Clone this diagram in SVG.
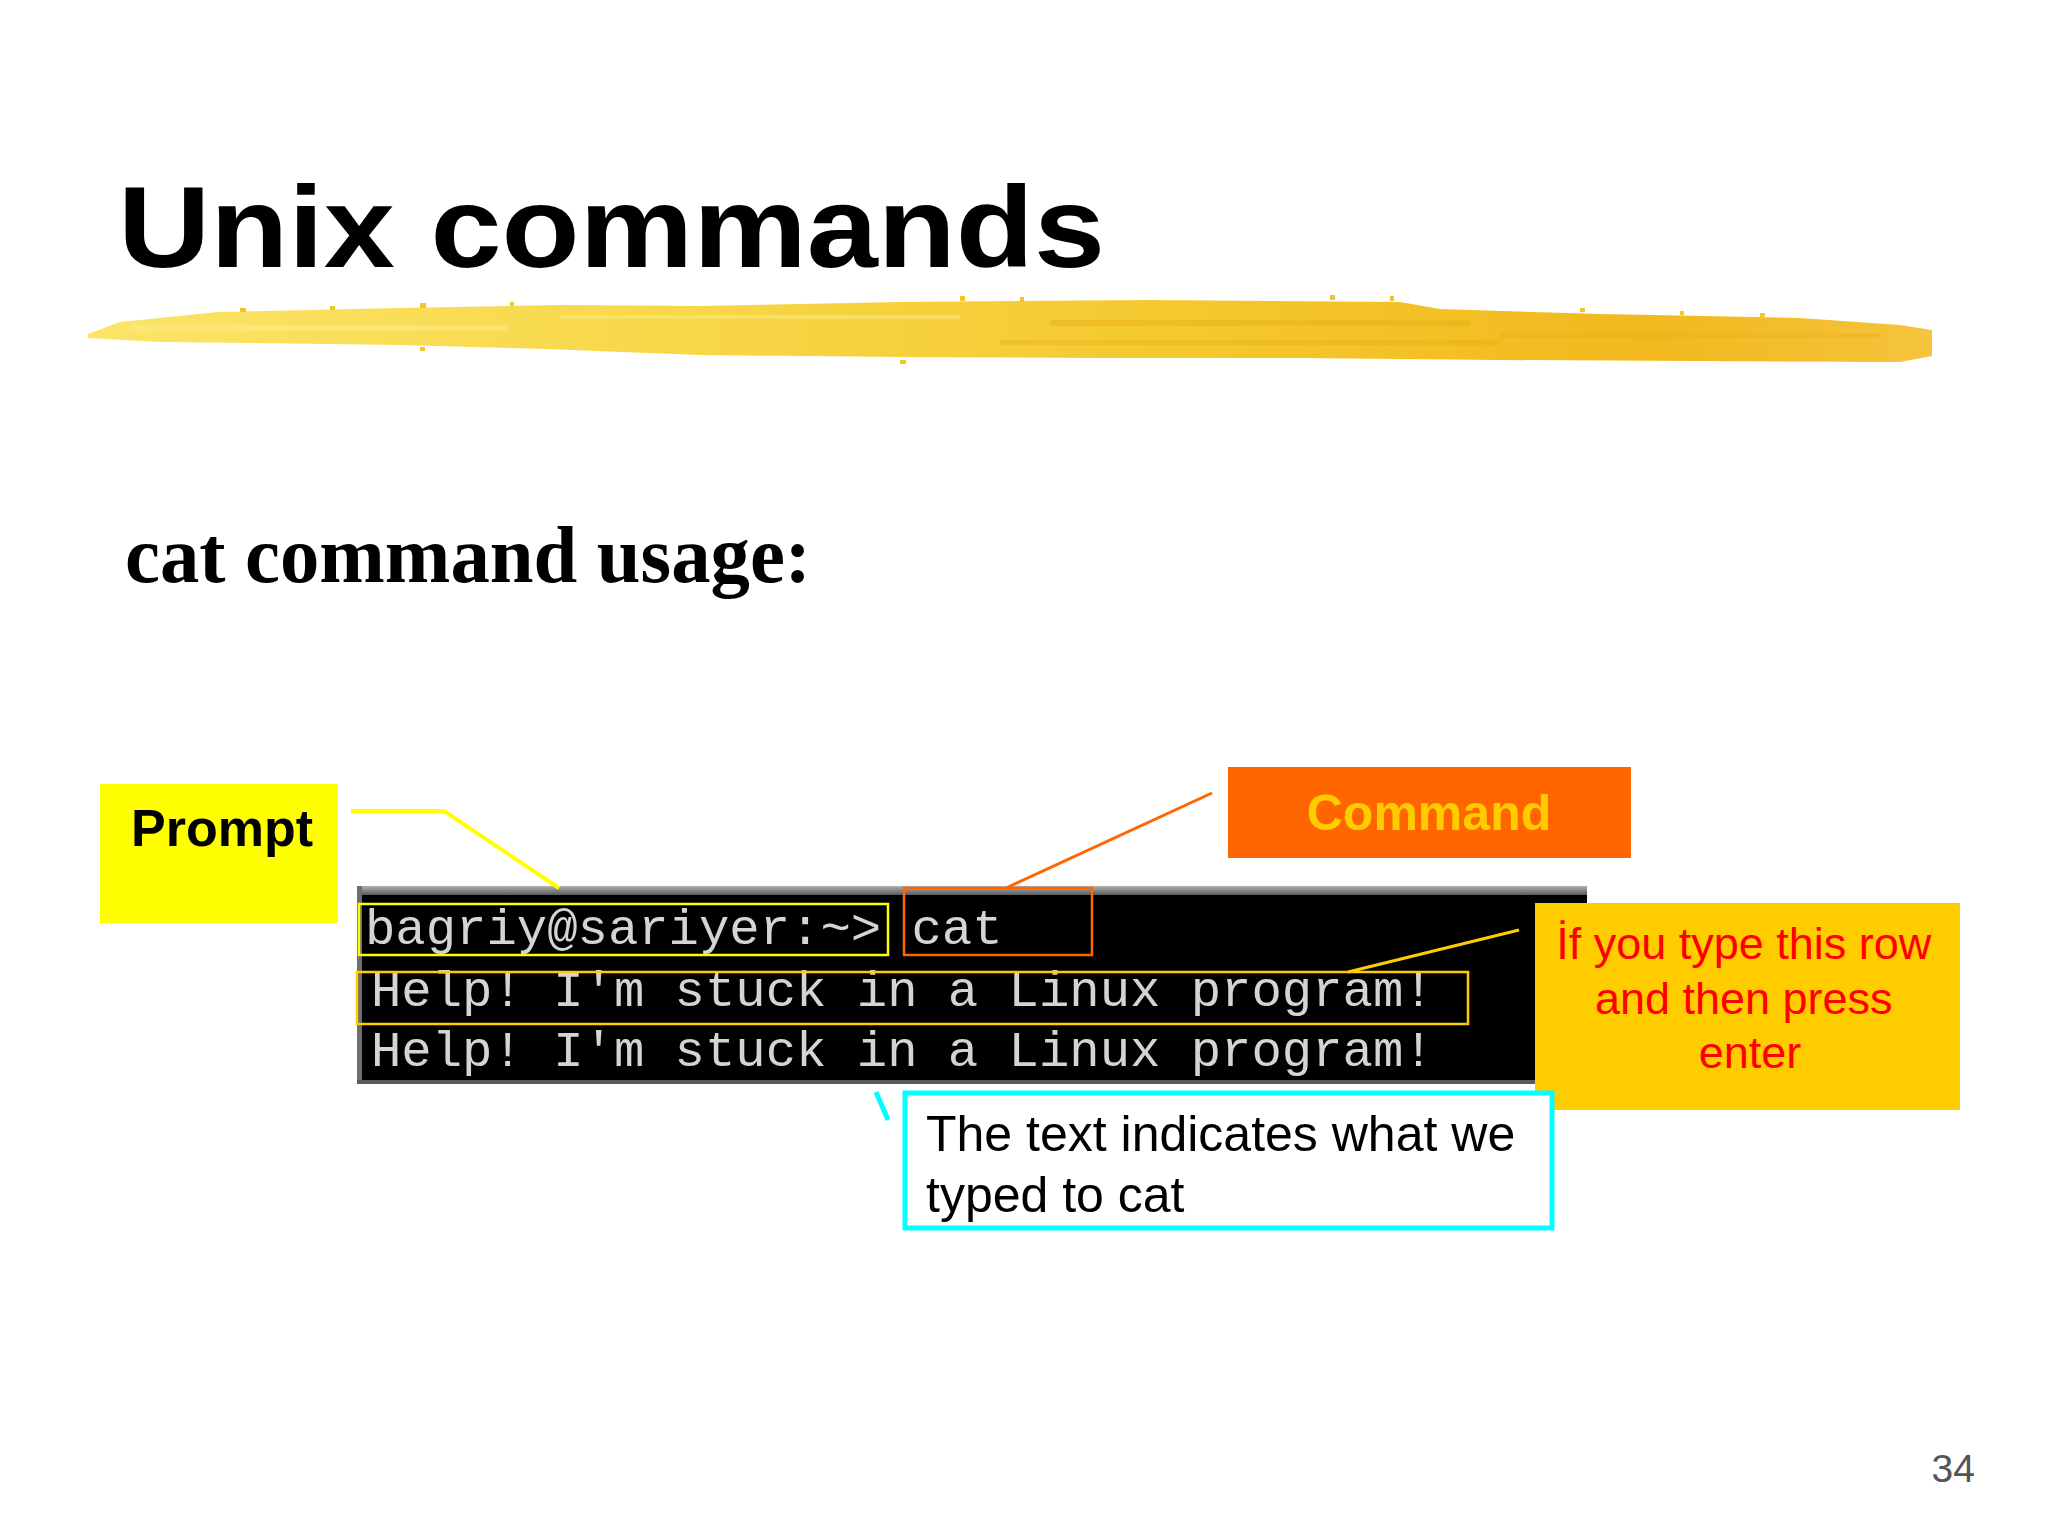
<svg xmlns="http://www.w3.org/2000/svg" width="2048" height="1536" viewBox="0 0 2048 1536">
<defs>
<linearGradient id="brush" x1="0" y1="0" x2="1" y2="0">
<stop offset="0" stop-color="#fbe467"/>
<stop offset="0.3" stop-color="#f8d84a"/>
<stop offset="0.6" stop-color="#f4c82e"/>
<stop offset="0.85" stop-color="#f1b91e"/>
<stop offset="1" stop-color="#f5c43c"/>
</linearGradient>
<linearGradient id="termtop" x1="0" y1="0" x2="0" y2="1">
<stop offset="0" stop-color="#b0b0b0"/>
<stop offset="1" stop-color="#5a5a5a"/>
</linearGradient>
<style>
.sans{font-family:"Liberation Sans",Arial,sans-serif}
.mono{font-family:"Liberation Mono","Courier New",monospace;font-size:50.6px;fill:#d4d4d4}
.ln{fill:none}
.spk{fill:#f3c52a}
</style>
</defs>
<rect width="2048" height="1536" fill="#ffffff"/>

<g id="title">
<text x="118" y="267" class="sans" font-weight="bold" font-size="115" textLength="987" lengthAdjust="spacingAndGlyphs" fill="#000">Unix commands</text>
</g>

<g id="brush-stroke">
<path d="M88,334 L120,322 L218,312 L400,308 L560,305 L700,306 L900,302 L1150,300 L1400,302 L1440,309 L1600,314 L1800,318 L1900,325 L1932,330 L1932,356 L1900,362 L1700,361 L1500,360 L1300,358 L1100,358 L900,357 L700,355 L545,349 L400,345 L250,343 L160,342 L88,338 Z" fill="url(#brush)"/>
<rect x="1050" y="320" width="420" height="6" fill="#e2a90c" opacity="0.35"/>
<rect x="1000" y="340" width="500" height="5" fill="#e5a80a" opacity="0.3"/>
<rect x="1500" y="333" width="380" height="5" fill="#e8aa10" opacity="0.3"/>
<rect x="560" y="315" width="400" height="4" fill="#fff3a0" opacity="0.35"/>
<rect x="130" y="325" width="380" height="6" fill="#fff0a0" opacity="0.35"/>
<rect class="spk" x="240" y="308" width="6" height="4"/>
<rect class="spk" x="330" y="306" width="5" height="4"/>
<rect class="spk" x="420" y="303" width="6" height="5"/>
<rect class="spk" x="510" y="302" width="4" height="4"/>
<rect class="spk" x="960" y="296" width="5" height="5"/>
<rect class="spk" x="1020" y="297" width="4" height="4"/>
<rect class="spk" x="1330" y="295" width="5" height="5"/>
<rect class="spk" x="1390" y="296" width="4" height="5"/>
<rect class="spk" x="1580" y="308" width="5" height="4"/>
<rect class="spk" x="1680" y="311" width="4" height="4"/>
<rect class="spk" x="1760" y="313" width="5" height="4"/>
<rect class="spk" x="900" y="360" width="6" height="4"/>
<rect class="spk" x="420" y="347" width="5" height="4"/>
</g>

<g id="subtitle">
<text x="125" y="582" font-family="'Liberation Serif','Times New Roman',serif" font-weight="bold" font-size="80" textLength="686" lengthAdjust="spacingAndGlyphs" fill="#000">cat command usage:</text>
</g>

<g id="terminal">
<rect x="357" y="886" width="1230" height="198" fill="#000"/>
<rect x="357" y="886" width="1230" height="9" fill="url(#termtop)"/>
<rect x="357" y="886" width="5" height="198" fill="#6e6e6e"/>
<rect x="357" y="1080" width="1230" height="4" fill="#5a5a5a"/>
<text x="365" y="944" class="mono">bagriy@sariyer:~&gt; cat</text>
<text x="371" y="1006" class="mono">Help! I'm stuck in a Linux program!</text>
<text x="371" y="1066" class="mono">Help! I'm stuck in a Linux program!</text>
<rect x="359" y="904" width="529" height="51" fill="none" stroke="#ffff00" stroke-width="2.5"/>
<rect x="904" y="888" width="188" height="67" fill="none" stroke="#ff6600" stroke-width="2.5"/>
<rect x="357" y="972" width="1111" height="52" fill="none" stroke="#ffcc00" stroke-width="2.5"/>
</g>

<g id="connectors">
<polyline class="ln" points="351,811 444,811 559,888" stroke="#ffff00" stroke-width="4"/>
<line class="ln" x1="1212" y1="793" x2="1006" y2="888" stroke="#ff6600" stroke-width="3"/>
<line class="ln" x1="1519" y1="930" x2="1348" y2="972" stroke="#ffcc00" stroke-width="3"/>
<line class="ln" x1="876" y1="1092" x2="888" y2="1120" stroke="#00ffff" stroke-width="5"/>
</g>

<g id="prompt">
<rect x="100" y="784" width="238" height="139" fill="#ffff00"/>
<text x="131" y="846" class="sans" font-weight="bold" font-size="52" fill="#000">Prompt</text>
</g>

<g id="command">
<rect x="1228" y="767" width="403" height="91" fill="#ff6600"/>
<text x="1429" y="830" class="sans" font-weight="bold" font-size="50" text-anchor="middle" fill="#ffcc00">Command</text>
</g>

<g id="row-note">
<rect x="1535" y="903" width="425" height="207" fill="#ffcc00"/>
<text class="sans" font-size="45" text-anchor="middle" fill="#ff0000">
<tspan x="1750" y="959">İf you type this row</tspan>
<tspan x="1750" y="1014">and then press</tspan>
<tspan x="1750" y="1068">enter</tspan>
</text>
</g>

<g id="typed-note">
<rect x="905" y="1093" width="647" height="135" fill="#ffffff" stroke="#00ffff" stroke-width="5"/>
<text class="sans" font-size="50" fill="#000">
<tspan x="926" y="1151">The text indicates what we</tspan>
<tspan x="926" y="1212">typed to cat</tspan>
</text>
</g>

<g id="page-number">
<text x="1975" y="1482" class="sans" font-size="39" text-anchor="end" fill="#555">34</text>
</g>
</svg>
